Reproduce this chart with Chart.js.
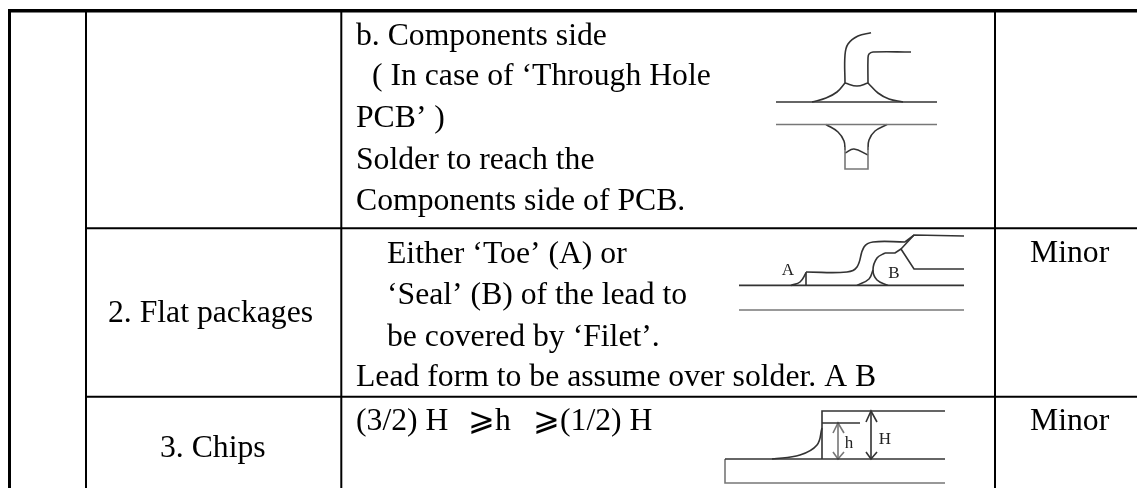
<!DOCTYPE html>
<html>
<head>
<meta charset="utf-8">
<script src="https://cdn.jsdelivr.net/npm/chart.js@4"></script>
<style>
html, body { margin: 0; padding: 0; background: #fff; overflow: hidden; }
canvas { display: block; }
</style>
</head>
<body>
<canvas id="myChart" width="1137" height="488"></canvas>
<script>
// table rules
const columnRules = [9.5, 86, 341.3, 995];
const rowRules = [228.2, 396.8];

// table text
const bigTexts = [
	'b. Components side',
	'( In case of ‘Through Hole',
	'PCB’ )',
	'Solder to reach the',
	'Components side of PCB.',
	'Either ‘Toe’ (A) or',
	'‘Seal’ (B) of the lead to',
	'be covered by ‘Filet’.',
	'Lead form to be assume over solder. A B',
	'(3/2) H',
	'⩾h',
	'⩾(1/2) H',
	'2. Flat packages',
	'3. Chips',
	'Minor',
	'Minor'
];
const bigTextX = [356, 372, 356, 356, 356, 387, 387, 387, 356, 356, 468, 533, 108, 160, 1030, 1030];
const bigTextY = [45, 85, 127, 169, 210, 263, 304, 346, 386, 430, 430, 430, 322, 457, 262, 430];

const smallTexts = ['A', 'B', 'h', 'H'];
const smallTextX = [788, 894, 849, 885];
const smallTextY = [275, 278, 448, 444];

// through hole drawing
const plateTop = [[776, 102], [937, 102]];
const plateBottom = [[776, 124.5], [937, 124.5]];
const leadLeft = [[871, 32.7], [858, 36], [848, 44], [845, 55], [845, 83]];
const leadRight = [[911, 52], [873, 52], [869, 54], [868, 58], [868, 83]];
const waveTop = [[845, 83], [857, 86], [868, 83]];
const filletLeft = [[845, 83], [837, 92], [826, 98], [812, 102]];
const filletRight = [[868, 83], [878, 93], [889, 99], [903, 102]];
const pinLeft = [[826, 124.5], [838, 132], [844, 141], [845, 150]];
const pinRight = [[887, 124.5], [875, 131], [869, 140], [868, 150]];
const pinBox = [[845, 147], [845, 169], [868, 169], [868, 147]];
const waveBottom = [[845, 153], [854, 149], [868, 155]];

// flat package drawing
const flatBase = [[739, 285.4], [964, 285.4]];
const flatBase2 = [[739, 310], [964, 310]];
const gullLead = [[806, 272], [847, 272], [857, 267], [864, 247], [873, 242], [905, 242]];
const gullTop = [[905, 242], [914, 235], [964, 236]];
const gullNeck = [[914, 235], [901, 249], [914, 269], [964, 269]];
const gullInner = [[901, 249], [895, 253], [885, 253]];
const sealCurve = [[885, 253], [877, 258], [873, 270], [877, 280], [888, 285.4]];
const sealLeft = [[873, 270], [869, 279], [857, 285.4]];
const toeCurve = [[806, 273], [800, 282], [791, 285.4]];
const toeEdge = [[806, 272], [806, 286]];

// chip drawing
const chipBase = [[725, 459], [945, 459]];
const chipBlock = [[725, 459], [725, 483], [945, 483]];
const chipBody = [[822, 459], [822, 411], [945, 411]];
const chipMark = [[822, 423], [860, 423]];
const chipFillet = [[822, 428], [817, 445], [800, 455], [772, 459]];
const arrowSmall = [[838, 423], [838, 459]];
const arrowSmallTop = [[833, 433], [838, 423], [844, 433]];
const arrowSmallEnd = [[833, 452], [838, 459], [844, 452]];
const arrowBig = [[871, 411], [871, 459]];
const arrowBigTop = [[866, 422], [871, 411], [877, 422]];
const arrowBigEnd = [[866, 452], [871, 459], [877, 452]];

const toPoints = (path) => path.map(([x, y]) => ({x, y}));

const rule = (path, borderWidth) => ({
	data: toPoints(path),
	borderColor: '#000',
	borderWidth,
	tension: 0
});
const line = (path, borderColor, tension) => ({
	data: toPoints(path),
	borderColor,
	borderWidth: 1.6,
	tension
});

const datasets = [
	rule([[8, 10.8], [1137, 10.8]], 3.6),
	rule([[columnRules[0], 10], [columnRules[0], 488]], 3),
	rule([[columnRules[1], 10], [columnRules[1], 488]], 2),
	rule([[columnRules[2], 10], [columnRules[2], 488]], 2),
	rule([[columnRules[3], 10], [columnRules[3], 488]], 2),
	rule([[columnRules[1], rowRules[0]], [1137, rowRules[0]]], 2),
	rule([[columnRules[1], rowRules[1]], [1137, rowRules[1]]], 2)
];
[plateTop, flatBase, gullTop, gullNeck, gullInner, toeEdge, chipBase, chipBody, chipMark,
	arrowBig, arrowBigTop, arrowBigEnd].forEach(p => datasets.push(line(p, '#333', 0)));
[plateBottom, pinBox, flatBase2, chipBlock, arrowSmall, arrowSmallTop, arrowSmallEnd]
	.forEach(p => datasets.push(line(p, '#777', 0)));
[leadLeft, leadRight, waveTop, filletLeft, filletRight, pinLeft, pinRight, waveBottom,
	gullLead, sealCurve, sealLeft, toeCurve, chipFillet].forEach(p => datasets.push(line(p, '#333', 0.4)));

// draws the cell text through the chart scales
const tableText = {
	id: 'tableText',
	afterDatasetsDraw(chart) {
		const {ctx, scales: {x, y}} = chart;
		ctx.save();
		ctx.fillStyle = '#000';
		ctx.textBaseline = 'alphabetic';
		ctx.font = '31.7px "Liberation Serif", "Noto Sans CJK SC"';
		bigTexts.forEach((t, i) => ctx.fillText(t, x.getPixelForValue(bigTextX[i]), y.getPixelForValue(bigTextY[i])));
		ctx.font = '17px "Liberation Serif"';
		ctx.fillStyle = '#222';
		ctx.textAlign = 'center';
		smallTexts.forEach((t, i) => ctx.fillText(t, x.getPixelForValue(smallTextX[i]), y.getPixelForValue(smallTextY[i])));
		ctx.restore();
	}
};

const myChart = new Chart(document.getElementById('myChart'), {
	type: 'scatter',
	data: {datasets},
	options: {
		responsive: false,
		animation: false,
		showLine: true,
		layout: {padding: 0},
		elements: {point: {radius: 0}},
		plugins: {legend: {display: false}, tooltip: {enabled: false}},
		scales: {
			x: {type: 'linear', display: false, min: 0, max: 1137},
			y: {type: 'linear', display: false, min: 0, max: 488, reverse: true}
		}
	},
	plugins: [tableText]
});
</script>
</body>
</html>
